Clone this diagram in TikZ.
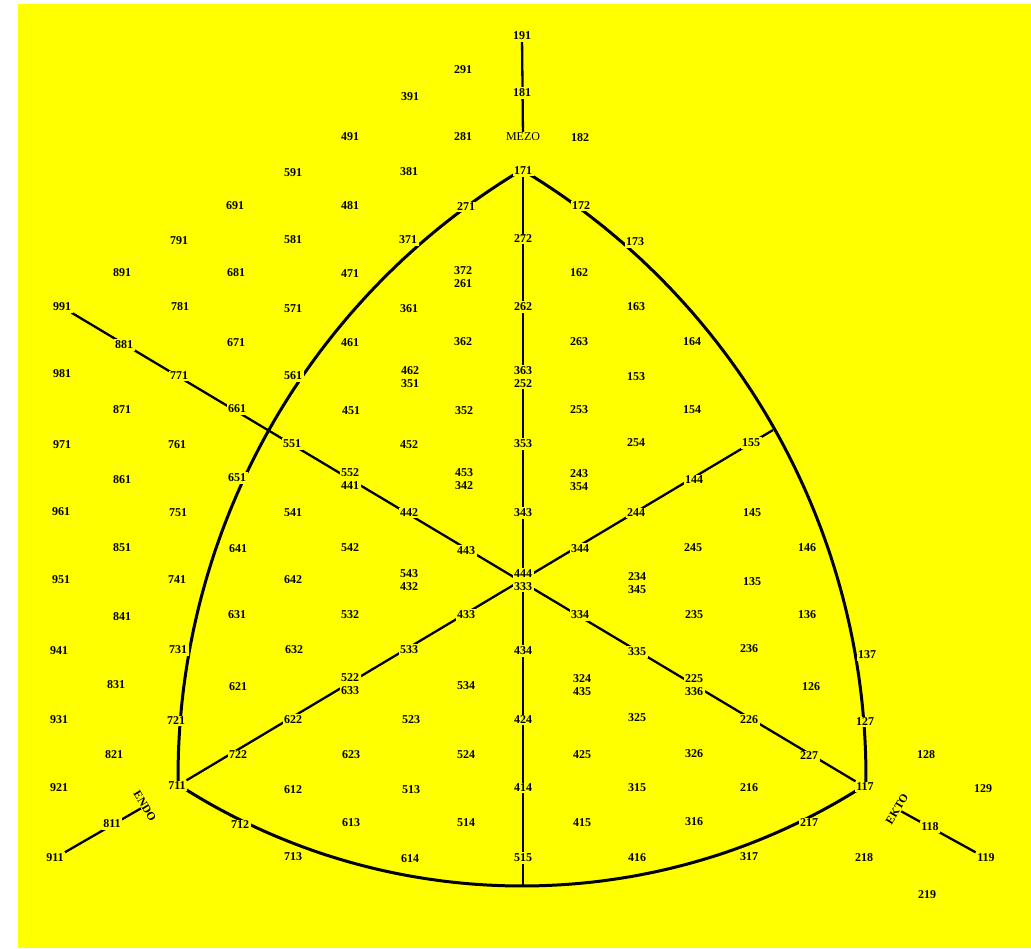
\documentclass[tikz,border=0pt]{standalone}
\usepackage{fontspec}
\setmainfont{Liberation Serif}
\definecolor{bgyellow}{RGB}{255,255,0}
\pgfdeclarelayer{bg}
\pgfdeclarelayer{lines}
\pgfsetlayers{bg,lines,main}
\begin{document}
\begin{tikzpicture}[x=1pt,y=-1pt,
  lab/.style={font=\bfseries\fontsize{12}{13}\selectfont, fill=bgyellow, inner sep=1.5pt, text=black},
  stack/.style={lab, align=center},
  word/.style={font=\fontsize{12}{13}\selectfont, fill=bgyellow, inner sep=0.5pt, text=black},
  axisline/.style={line width=2.3pt, black},
  arcline/.style={line width=3pt, black, line join=round}]
\useasboundingbox (0,0) rectangle (1031,948);
\begin{pgfonlayer}{bg}
\fill[white] (0,0) rectangle (1031,948);
\fill[bgyellow] (18,4) rectangle (1031,948);
\end{pgfonlayer}
% single labels
\foreach \t/\x/\y in {
191/522/36, 291/463/70, 181/522/93, 391/410/97,
491/350/137, 281/463/137, 182/580/138,
591/293/173, 381/409/172, 171/523/171,
691/235/206, 481/350/206, 271/466/207, 172/581/206,
791/179/241, 581/293/240, 371/408/240, 272/523/239, 173/635/242,
891/122/273, 681/236/273, 471/350/274, 162/579/273,
991/62/307, 781/180/307, 571/293/309, 361/409/309, 262/523/307, 163/636/307,
881/124/345, 671/236/343, 461/350/343, 362/463/342, 263/579/342, 164/692/342,
981/62/374, 771/179/376, 561/293/376, 153/636/377,
871/122/410, 661/237/409, 451/351/411, 352/464/411, 253/579/410, 154/692/410,
971/62/445, 761/177/445, 551/292/444, 452/409/445, 353/523/444, 254/636/443, 155/751/443,
861/122/480, 651/237/478, 144/694/480,
961/61/512, 751/178/513, 541/293/513, 442/409/513, 343/523/513, 244/636/513, 145/752/513,
851/122/548, 641/238/549, 542/350/548, 443/466/551, 344/580/549, 245/693/548, 146/807/548,
951/61/580, 741/177/580, 642/293/580, 135/752/582,
841/122/617, 631/237/615, 532/350/615, 433/466/615, 334/580/615, 235/694/615, 136/807/615,
941/59/651, 731/178/650, 632/294/650, 533/409/650, 434/523/651, 335/637/652, 236/749/649, 137/867/655,
831/116/685, 621/238/687, 534/466/686, 126/811/687,
931/59/720, 721/176/721, 622/293/720, 523/411/720, 424/523/720, 325/637/718, 226/749/720, 127/865/722,
821/114/755, 722/238/755, 623/351/755, 524/466/755, 425/582/755, 326/694/754, 227/809/756, 128/926/755,
921/59/788, 711/177/786, 612/293/790, 513/411/790, 414/523/788, 315/637/788, 216/749/788, 117/865/787, 129/983/789,
811/112/824, 712/240/825, 613/351/823, 514/466/823, 415/582/823, 316/694/822, 217/809/823, 118/930/827,
911/55/858, 713/293/857, 614/410/859, 515/523/858, 416/637/858, 317/749/857, 218/864/858, 119/986/858,
219/927/895}
  \node[lab] (n\t) at (\x,\y) {\t};
% stacked labels
\node[stack] (n372) at (463,277) {372\\261};
\node[stack] (n462) at (410,377) {462\\351};
\node[stack] (n363) at (523,377) {363\\252};
\node[stack] (n552) at (350,479) {552\\441};
\node[stack] (n453) at (464,479) {453\\342};
\node[stack] (n243) at (579,480) {243\\354};
\node[stack] (n543) at (409,580) {543\\432};
\node[stack] (n444) at (523,580) {444\\333};
\node[stack] (n234) at (637,583) {234\\345};
\node[stack] (n522) at (350,684) {522\\633};
\node[stack] (n324) at (582,685) {324\\435};
\node[stack] (n225) at (694,685) {225\\336};
% words
\node[word] (mezo) at (523,137) {MEZO};
\node[word, font=\bfseries\fontsize{11.5}{12}\selectfont, rotate=-59] (endo) at (145,806) {ENDO};
\node[word, font=\bfseries\fontsize{11.5}{12}\selectfont, rotate=59] (ekto) at (897,809) {EKTO};
\coordinate (vbot) at (523,886);
\coordinate (btip) at (773,430);
\begin{pgfonlayer}{lines}
\draw[axisline] (n191) -- (mezo);
\draw[axisline] (n171) -- (vbot);
\draw[axisline] (n991) -- (n117);
\draw[axisline] (ekto) -- (n119);
\draw[axisline] (n711) -- (btip);
\draw[axisline] (endo) -- (n911);
\draw[arcline] plot[domain=179.35:239.05, samples=90] ({886+708*cos(\x)}, {777+708*sin(\x)});
\draw[arcline] plot[domain=-59.05:0.65, samples=90] ({158+708*cos(\x)}, {777+708*sin(\x)});
\draw[arcline] plot[domain=57.2:122.8, samples=90] ({522+634*cos(\x)}, {252+634*sin(\x)});
\end{pgfonlayer}
\end{tikzpicture}
\end{document}
